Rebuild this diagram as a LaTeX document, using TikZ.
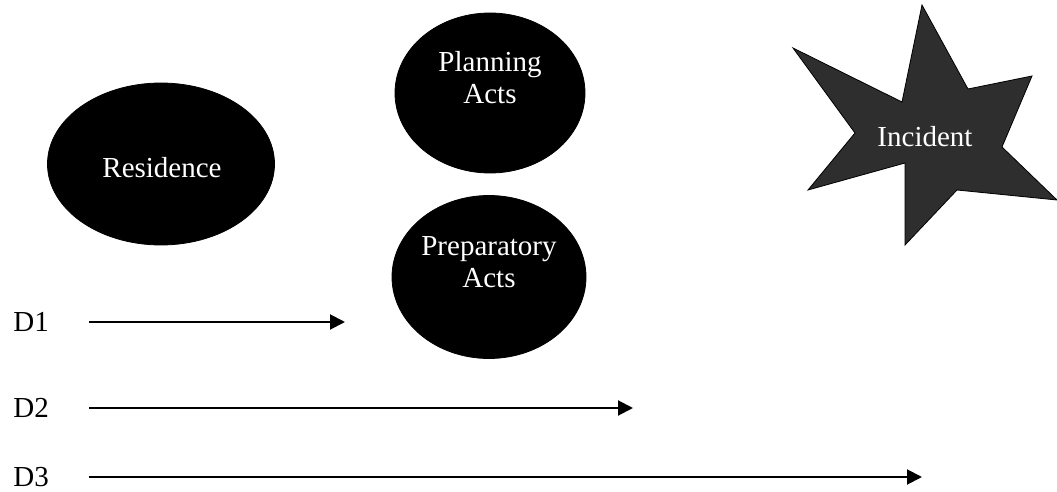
\documentclass[tikz,border=0pt]{standalone}
\usepackage{fontspec}
\setmainfont{Liberation Serif}
\usetikzlibrary{shapes.geometric, arrows.meta, positioning}
\tikzset{
  actblob/.style={ellipse, fill=black, draw=black, inner sep=0pt},
  blobtext/.style={text=white, align=center, inner sep=0pt, font=\fontsize{14.5}{16}\selectfont},
  daylabel/.style={anchor=west, inner sep=0pt, font=\fontsize{14.5}{16}\selectfont},
  timeline/.style={line width=1pt, -{Triangle[length=7.5pt,width=7.5pt]}}
}
\newcommand\dayrow[3]{\node[daylabel] (#1) at (13,#2) {#1};\coordinate (#1s) at (89,#2);\coordinate (#1e) at (#3,#2);\draw[timeline] (#1s) -- (#1e);}

\begin{document}
\begin{tikzpicture}[x=0.5pt, y=-0.5pt]
	\useasboundingbox (0,0) rectangle (1057,492);
	% the three stages
	\node[actblob, minimum width=113.5pt, minimum height=81pt] (residence) at (161,164) {};
	\node[actblob, minimum width=95pt, minimum height=80pt] (planning) at (490,93) {};
	\node[actblob, minimum width=97pt, minimum height=81.5pt] (preparatory) at (489,277) {};
	\node[blobtext] (residencetext) at (162,168) {Residence};
	\node[blobtext] (planningtext) at (490,78) {Planning\\Acts};
	\node[blobtext] (preparatorytext) at (489,262) {Preparatory\\Acts};
	% incident star
	\fill[black!82, draw=black, line width=0.4pt] (922,5) -- (968,89) -- (1032,76) -- (1002,147) -- (1057,200) -- (957,190) -- (905,245) -- (905,163) -- (808,190) -- (855,133) -- (793,48) -- (902,102) -- cycle;
	\node[blobtext] (incident) at (925,137) {Incident};
	% distances
	\dayrow{D1}{322}{345}
	\dayrow{D2}{408}{633}
	\dayrow{D3}{477}{922}
\end{tikzpicture}
\end{document}
